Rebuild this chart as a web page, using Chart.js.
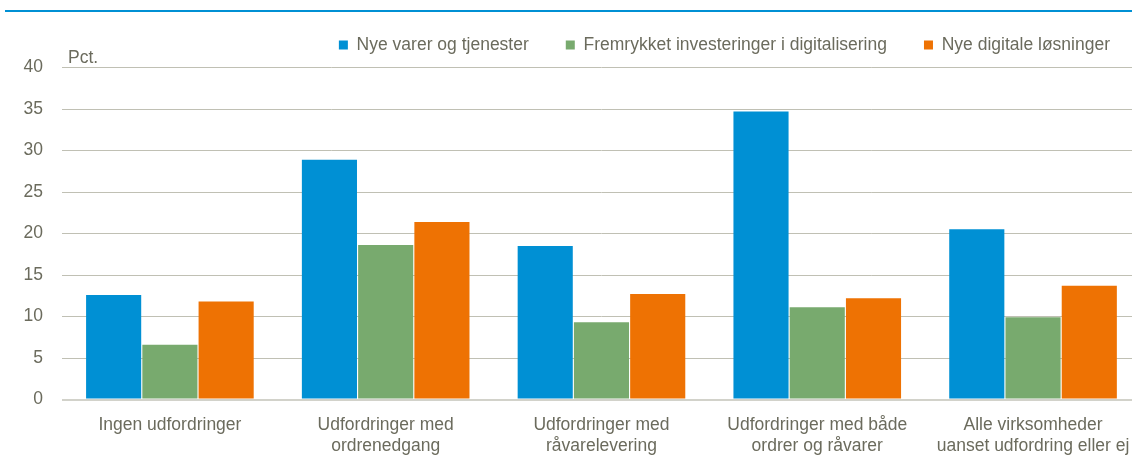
<!DOCTYPE html>
<html>
<head>
<meta charset="utf-8">
<script src="https://cdn.jsdelivr.net/npm/chart.js@4"></script>
<style>
html, body { margin: 0; padding: 0; background: #fff; overflow: hidden; width: 1132px; height: 461px; }
#topline { position: absolute; left: 5px; top: 10px; width: 1127px; height: 2px; background: #0090d4; }
#wrap { position: absolute; left: 0; top: 0; width: 1145px; height: 461px; }
</style>
</head>
<body>
<div id="topline"></div>
<div id="wrap"><canvas id="chart"></canvas></div>
<script>
var categories = [
	['Ingen udfordringer'],
	['Udfordringer med', 'ordrenedgang'],
	['Udfordringer med', 'råvarelevering'],
	['Udfordringer med både', 'ordrer og råvarer'],
	['Alle virksomheder', 'uanset udfordring eller ej']
]
var seriesNames = ['Nye varer og tjenester', 'Fremrykket investeringer i digitalisering', 'Nye digitale løsninger']
var nyeVarer = [12.6, 28.9, 18.5, 34.7, 20.5]
var fremrykket = [6.6, 18.6, 9.3, 11.1, 9.9]
var nyeDigitale = [11.8, 21.4, 12.7, 12.2, 13.7]
var yMax = 40
var yStep = 5

var colors = ['#0090d4', '#78aa6e', '#ee7203']
var textColor = '#6b6b5d'
var fontFamily = "'Liberation Sans', Arial, sans-serif"
var fontSize = 17.5

Chart.defaults.font.family = fontFamily
Chart.defaults.font.size = fontSize
Chart.defaults.color = textColor

// legend + "Pct." placement
var extras = {
	id: 'extras',
	afterLayout: function(chart) {
		var lg = chart.legend
		var pad = lg.options.labels.padding
		lg.top = 45 - pad - fontSize / 2
		lg.right = 1110 + pad
	},
	afterDraw: function(chart) {
		var ctx = chart.ctx
		ctx.save()
		ctx.font = fontSize + 'px ' + fontFamily
		ctx.fillStyle = textColor
		ctx.textBaseline = 'alphabetic'
		ctx.textAlign = 'left'
		ctx.fillText('Pct.', 68, 63)
		ctx.restore()
	}
}

var data = [nyeVarer, fremrykket, nyeDigitale]
var datasets = data.map(function(d, i) {
	return {
		label: seriesNames[i],
		data: d,
		backgroundColor: colors[i],
		borderWidth: 0,
		categoryPercentage: 0.782,
		barPercentage: 0.98
	}
})

var ctx = document.getElementById('chart').getContext('2d')
var myChart = new Chart(ctx, {
	type: 'bar',
	data: { labels: categories, datasets: datasets },
	plugins: [extras],
	options: {
		responsive: true,
		maintainAspectRatio: false,
		animation: false,
		devicePixelRatio: 1,
		layout: { padding: { left: 0, right: 1.5, top: 66.5, bottom: 0 } },
		plugins: {
			tooltip: { enabled: false },
			legend: {
				position: 'top',
				align: 'end',
				maxHeight: 1,
				labels: { boxWidth: 9, boxHeight: 9, padding: 37, color: textColor }
			}
		},
		scales: {
			x: {
				grid: { display: false, drawTicks: false },
				border: { display: false },
				ticks: { padding: 15.5, maxRotation: 0, autoSkip: false, color: textColor },
				afterFit: function(scale) { scale.height = 61.5 }
			},
			y: {
				min: 0,
				max: yMax,
				border: { display: false },
				grid: {
					drawTicks: false,
					color: function(c) { return c.tick && c.tick.value === 0 ? '#d2d2ca' : '#c0c0b4' },
					lineWidth: function(c) { return c.tick && c.tick.value === 0 ? 2 : 1 }
				},
				ticks: { stepSize: yStep, padding: 19, color: textColor },
				afterFit: function(scale) { scale.width = 62 }
			}
		}
	}
})
</script>
</body>
</html>
